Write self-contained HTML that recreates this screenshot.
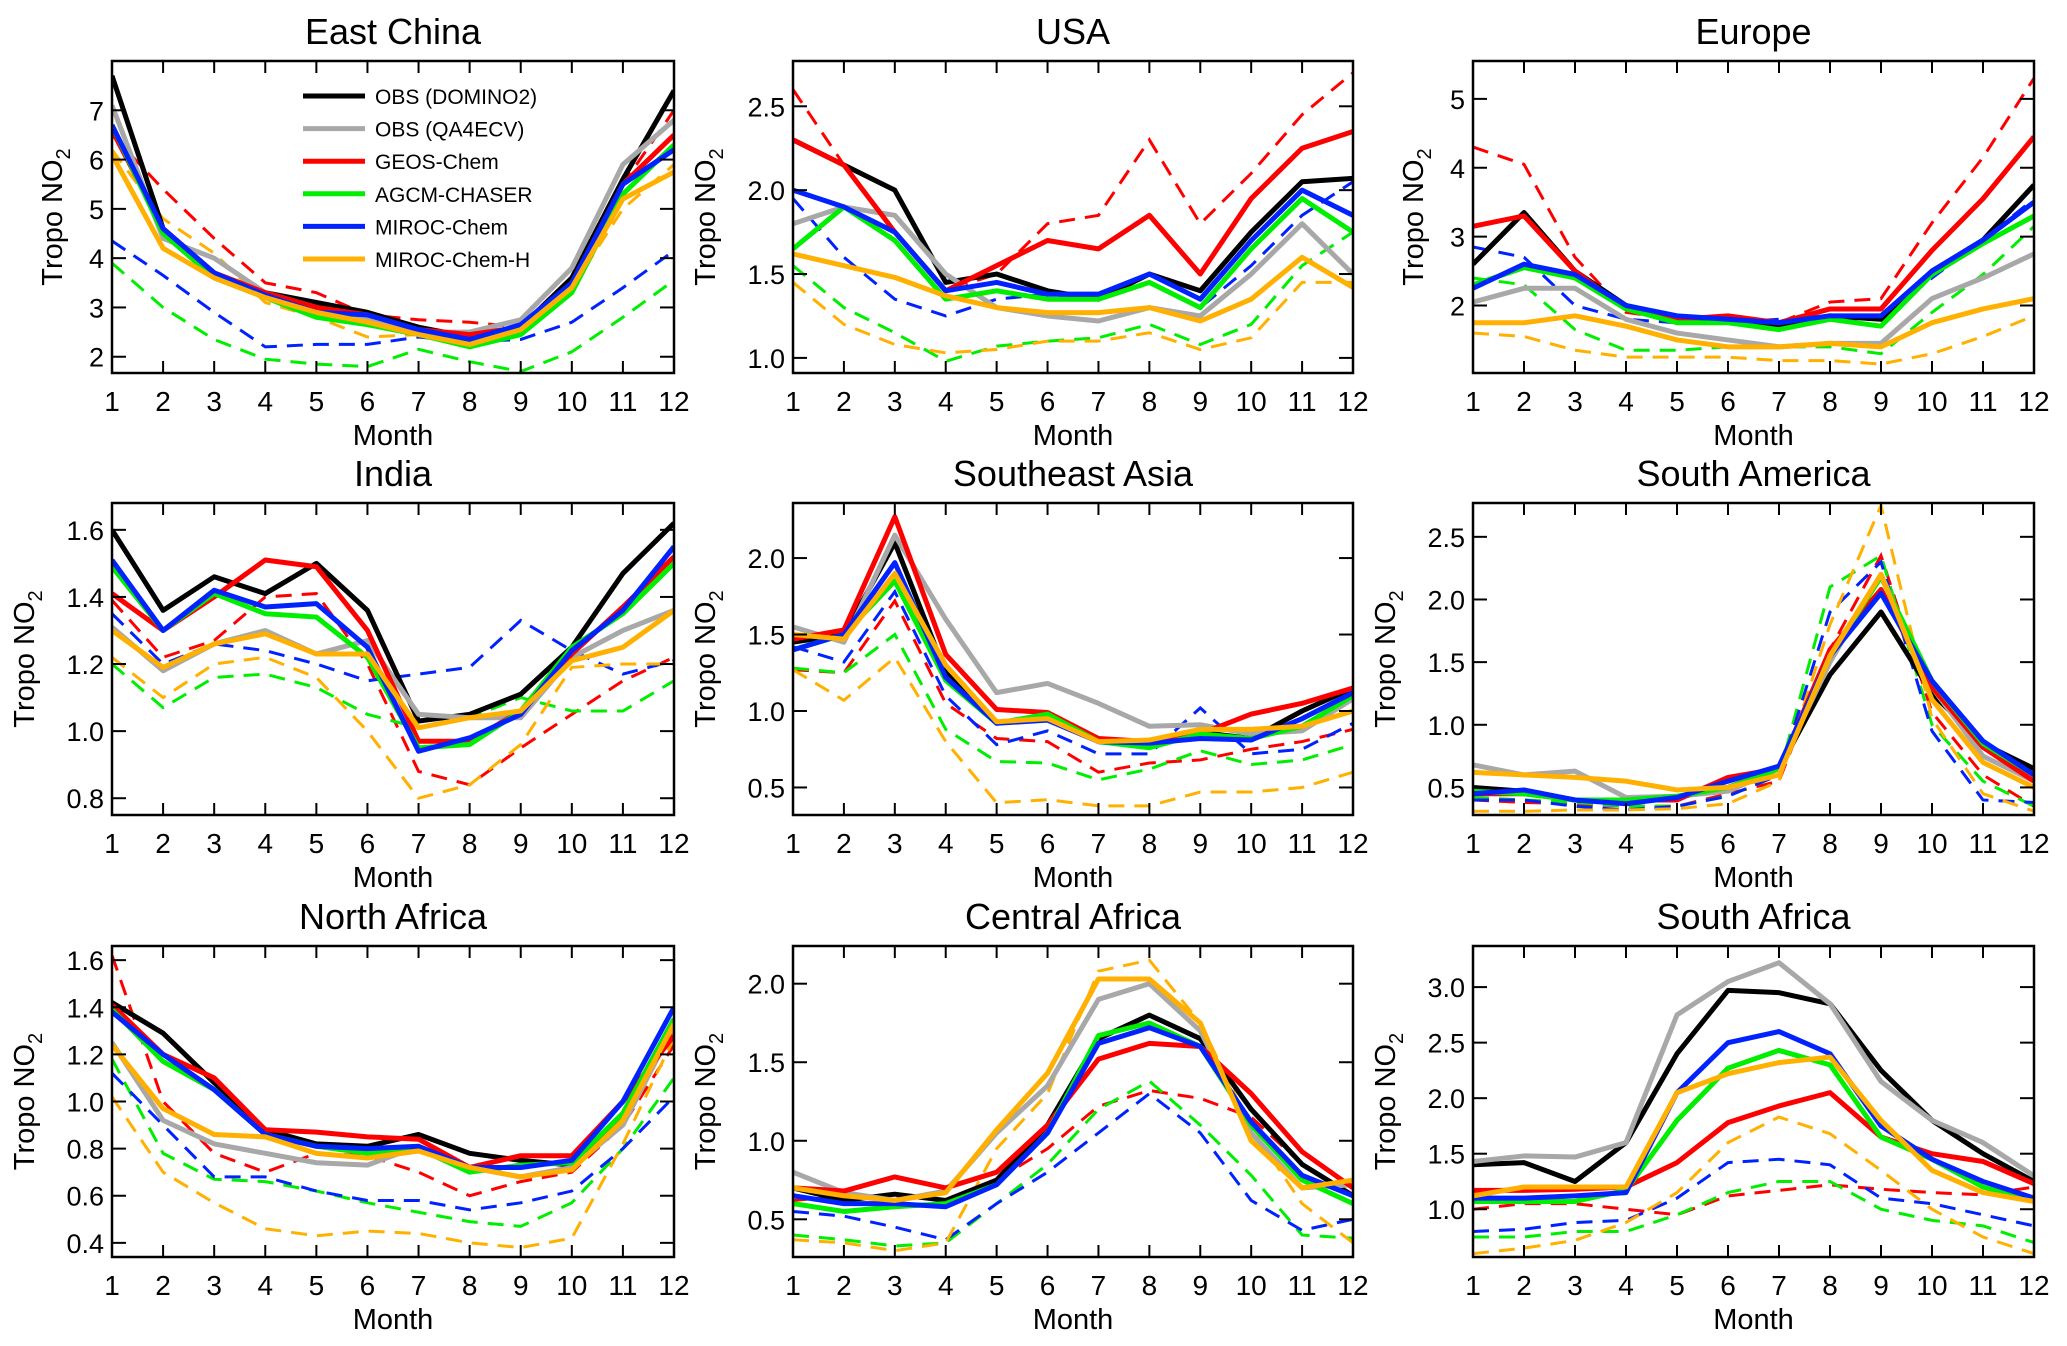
<!DOCTYPE html>
<html><head><meta charset="utf-8"><style>
html,body{margin:0;padding:0;background:#fff;}
svg{display:block;font-family:"Liberation Sans",Arial,sans-serif;}
</style></head><body>
<svg id="fig" width="2067" height="1346" viewBox="0 0 2067 1346" xmlns="http://www.w3.org/2000/svg"></svg>
<script>
const months=[1,2,3,4,5,6,7,8,9,10,11,12];
const panelTitles=["East China","USA","Europe","India","Southeast Asia","South America","North Africa","Central Africa","South Africa"];
const yRanges=[[1.67,8.0],[0.91,2.77],[1.02,5.55],[0.75,1.68],[0.32,2.36],[0.28,2.77],[0.34,1.66],[0.26,2.24],[0.57,3.37]];
const yTicks=[[2,3,4,5,6,7],[1.0,1.5,2.0,2.5],[2,3,4,5],[0.8,1.0,1.2,1.4,1.6],[0.5,1.0,1.5,2.0],[0.5,1.0,1.5,2.0,2.5],[0.4,0.6,0.8,1.0,1.2,1.4,1.6],[0.5,1.0,1.5,2.0],[1.0,1.5,2.0,2.5,3.0]];
const yTickDecimals=[0,1,0,1,1,1,1,1,1];
const seriesNames=["OBS (DOMINO2)","OBS (QA4ECV)","GEOS-Chem","AGCM-CHASER","MIROC-Chem","MIROC-Chem-H"];
const dashedNames=["GEOS-Chem-dashed","AGCM-CHASER-dashed","MIROC-Chem-dashed","MIROC-Chem-H-dashed"];
const solidData=[
[[7.7,4.6,3.7,3.3,3.1,2.9,2.6,2.4,2.6,3.6,5.6,7.4],[7.1,4.4,4.0,3.3,3.0,2.8,2.5,2.5,2.75,3.8,5.9,6.8],[6.6,4.6,3.7,3.3,3.0,2.85,2.55,2.45,2.6,3.5,5.5,6.5],[6.7,4.5,3.6,3.2,2.8,2.65,2.45,2.2,2.45,3.3,5.3,6.3],[6.7,4.6,3.7,3.25,2.9,2.85,2.55,2.35,2.65,3.5,5.5,6.2],[6.1,4.2,3.6,3.2,2.9,2.7,2.45,2.25,2.55,3.4,5.2,5.75]],
[[2.3,2.15,2.0,1.45,1.5,1.4,1.35,1.5,1.4,1.75,2.05,2.07],[1.8,1.9,1.85,1.5,1.3,1.25,1.22,1.3,1.25,1.5,1.8,1.5],[2.3,2.15,1.75,1.4,1.55,1.7,1.65,1.85,1.5,1.95,2.25,2.35],[1.65,1.9,1.7,1.35,1.4,1.35,1.35,1.45,1.3,1.65,1.95,1.75],[2.0,1.9,1.75,1.4,1.45,1.38,1.38,1.5,1.35,1.7,2.0,1.85],[1.62,1.55,1.48,1.37,1.3,1.27,1.27,1.3,1.22,1.35,1.6,1.42]],
[[2.6,3.35,2.5,2.0,1.8,1.8,1.7,1.85,1.8,2.5,2.95,3.75],[2.05,2.25,2.25,1.8,1.6,1.5,1.4,1.45,1.45,2.1,2.4,2.75],[3.15,3.3,2.5,1.95,1.8,1.85,1.75,1.95,1.95,2.8,3.55,4.45],[2.3,2.55,2.4,1.95,1.75,1.75,1.65,1.8,1.7,2.45,2.9,3.3],[2.25,2.6,2.45,2.0,1.85,1.8,1.75,1.85,1.85,2.5,2.95,3.5],[1.75,1.75,1.85,1.7,1.5,1.4,1.4,1.45,1.4,1.75,1.95,2.1]],
[[1.6,1.36,1.46,1.41,1.5,1.36,1.03,1.05,1.11,1.25,1.47,1.62],[1.31,1.18,1.26,1.3,1.23,1.27,1.05,1.04,1.04,1.22,1.3,1.36],[1.41,1.3,1.4,1.51,1.49,1.3,0.97,0.97,1.06,1.23,1.37,1.52],[1.49,1.3,1.41,1.35,1.34,1.22,0.95,0.96,1.06,1.25,1.35,1.5],[1.51,1.3,1.42,1.37,1.38,1.25,0.94,0.98,1.05,1.24,1.36,1.55],[1.3,1.19,1.26,1.29,1.23,1.23,1.01,1.04,1.06,1.21,1.25,1.36]],
[[1.45,1.5,2.1,1.25,0.92,0.97,0.8,0.78,0.86,0.82,1.0,1.15],[1.55,1.45,2.15,1.6,1.12,1.18,1.05,0.9,0.91,0.85,0.87,1.08],[1.47,1.53,2.27,1.37,1.01,0.99,0.82,0.8,0.85,0.98,1.05,1.15],[1.4,1.5,1.85,1.2,0.92,0.98,0.8,0.76,0.85,0.82,0.9,1.1],[1.4,1.5,1.97,1.22,0.92,0.94,0.8,0.79,0.82,0.81,0.95,1.12],[1.5,1.47,1.9,1.3,0.93,0.95,0.8,0.81,0.88,0.88,0.9,1.0]],
[[0.5,0.47,0.4,0.38,0.42,0.5,0.65,1.4,1.9,1.25,0.85,0.65],[0.68,0.6,0.63,0.42,0.43,0.47,0.65,1.5,2.2,1.3,0.75,0.55],[0.45,0.45,0.4,0.4,0.4,0.58,0.65,1.6,2.08,1.3,0.82,0.55],[0.47,0.45,0.4,0.4,0.43,0.5,0.65,1.55,2.18,1.35,0.85,0.6],[0.45,0.48,0.4,0.37,0.42,0.55,0.67,1.55,2.05,1.35,0.87,0.6],[0.62,0.6,0.58,0.55,0.48,0.5,0.6,1.55,2.2,1.2,0.7,0.5]],
[[1.42,1.29,1.08,0.88,0.82,0.81,0.86,0.78,0.75,0.73,0.95,1.35],[1.25,0.92,0.82,0.78,0.74,0.73,0.81,0.72,0.68,0.72,0.9,1.32],[1.41,1.2,1.1,0.88,0.87,0.85,0.84,0.72,0.77,0.77,1.0,1.28],[1.39,1.17,1.05,0.86,0.81,0.78,0.8,0.7,0.73,0.74,0.95,1.35],[1.38,1.2,1.05,0.86,0.81,0.8,0.81,0.72,0.72,0.75,1.0,1.4],[1.24,0.97,0.86,0.85,0.78,0.76,0.79,0.72,0.68,0.71,0.92,1.33]],
[[0.7,0.62,0.66,0.62,0.75,1.1,1.65,1.8,1.65,1.2,0.85,0.65],[0.8,0.67,0.62,0.68,1.05,1.35,1.9,2.0,1.7,1.05,0.7,0.72],[0.7,0.68,0.77,0.7,0.8,1.1,1.52,1.62,1.6,1.3,0.93,0.7],[0.6,0.55,0.58,0.6,0.72,1.05,1.67,1.75,1.6,1.1,0.75,0.6],[0.65,0.6,0.6,0.58,0.72,1.05,1.62,1.72,1.6,1.12,0.78,0.65],[0.7,0.65,0.62,0.67,1.07,1.43,2.03,2.03,1.75,1.0,0.7,0.75]],
[[1.4,1.42,1.25,1.6,2.4,2.97,2.95,2.85,2.25,1.8,1.5,1.25],[1.43,1.48,1.47,1.6,2.75,3.05,3.22,2.85,2.15,1.8,1.6,1.3],[1.17,1.17,1.18,1.2,1.42,1.78,1.93,2.05,1.65,1.5,1.43,1.23],[1.07,1.07,1.07,1.17,1.8,2.27,2.43,2.3,1.65,1.45,1.2,1.07],[1.1,1.1,1.12,1.15,2.05,2.5,2.6,2.4,1.75,1.45,1.25,1.1],[1.12,1.2,1.2,1.2,2.05,2.22,2.32,2.37,1.8,1.35,1.15,1.07]]
];
const dashedData=[
[[6.5,5.4,4.4,3.5,3.3,2.85,2.75,2.7,2.6,3.6,5.5,7.0],[3.9,3.0,2.35,1.95,1.85,1.8,2.15,1.9,1.7,2.1,2.8,3.55],[4.35,3.65,2.9,2.2,2.25,2.25,2.4,2.3,2.35,2.7,3.4,4.15],[6.2,4.8,4.1,3.1,2.8,2.4,2.45,2.3,2.5,3.4,5.0,5.9]],
[[2.6,2.15,1.75,1.4,1.5,1.8,1.85,2.3,1.8,2.1,2.45,2.7],[1.55,1.3,1.15,0.98,1.07,1.1,1.12,1.2,1.08,1.2,1.55,1.75],[1.95,1.6,1.35,1.25,1.35,1.38,1.35,1.45,1.3,1.55,1.85,2.05],[1.45,1.2,1.08,1.03,1.05,1.1,1.1,1.15,1.05,1.12,1.45,1.45]],
[[4.3,4.05,2.7,1.9,1.8,1.8,1.75,2.05,2.1,3.2,4.15,5.3],[2.4,2.3,1.65,1.35,1.35,1.4,1.4,1.4,1.3,1.9,2.45,3.15],[2.85,2.7,2.0,1.8,1.75,1.75,1.8,1.8,1.8,2.4,2.95,3.55],[1.6,1.55,1.35,1.25,1.25,1.25,1.2,1.2,1.15,1.3,1.55,1.85]],
[[1.39,1.22,1.27,1.4,1.41,1.2,0.88,0.84,0.95,1.05,1.15,1.22],[1.2,1.07,1.16,1.17,1.13,1.05,1.01,1.04,1.1,1.06,1.06,1.15],[1.35,1.2,1.26,1.24,1.2,1.15,1.17,1.19,1.33,1.24,1.17,1.21],[1.22,1.1,1.2,1.22,1.16,1.0,0.8,0.84,0.96,1.19,1.2,1.2]],
[[1.27,1.25,1.72,1.05,0.82,0.8,0.6,0.66,0.68,0.75,0.8,0.88],[1.28,1.25,1.5,0.88,0.67,0.66,0.55,0.62,0.74,0.65,0.68,0.78],[1.42,1.32,1.78,1.1,0.78,0.87,0.72,0.72,1.02,0.72,0.75,0.92],[1.27,1.07,1.35,0.8,0.4,0.42,0.38,0.38,0.47,0.47,0.5,0.6]],
[[0.4,0.38,0.37,0.35,0.35,0.45,0.55,1.6,2.35,1.1,0.6,0.35],[0.42,0.4,0.38,0.35,0.35,0.43,0.6,2.1,2.35,1.0,0.55,0.35],[0.4,0.4,0.35,0.32,0.35,0.43,0.6,1.9,2.3,0.95,0.4,0.38],[0.31,0.31,0.32,0.32,0.33,0.37,0.55,1.8,2.75,1.05,0.45,0.31]],
[[1.62,1.0,0.78,0.7,0.78,0.77,0.7,0.6,0.66,0.7,0.9,1.24],[1.18,0.78,0.67,0.66,0.62,0.57,0.53,0.49,0.47,0.57,0.8,1.1],[1.12,0.9,0.68,0.68,0.62,0.58,0.58,0.54,0.57,0.62,0.8,1.02],[1.02,0.7,0.57,0.46,0.43,0.45,0.44,0.4,0.38,0.42,0.82,1.27]],
[[0.62,0.65,0.65,0.62,0.75,0.95,1.22,1.32,1.27,1.15,0.85,0.65],[0.4,0.37,0.33,0.35,0.6,0.85,1.2,1.38,1.1,0.78,0.4,0.38],[0.55,0.52,0.45,0.37,0.6,0.8,1.05,1.3,1.05,0.62,0.43,0.5],[0.37,0.35,0.3,0.35,0.95,1.3,2.08,2.15,1.75,1.08,0.6,0.35]],
[[1.0,1.05,1.05,1.0,0.95,1.12,1.17,1.22,1.18,1.15,1.13,1.2],[0.75,0.75,0.8,0.8,0.95,1.15,1.25,1.25,1.0,0.9,0.85,0.7],[0.8,0.82,0.88,0.9,1.1,1.42,1.45,1.4,1.1,1.05,0.95,0.85],[0.6,0.65,0.72,0.88,1.15,1.6,1.83,1.68,1.35,1.0,0.75,0.6]]
];
const solidColors=["#000000","#a8a8a8","#ff0000","#00ee00","#0022ff","#ffb000"];
const dashedColors=["#ff0000","#00ee00","#0022ff","#ffb000"];
const colX=[[112,674],[793,1353],[1473,2034]];
const rowY=[[61,373],[503,815],[946,1257]];
const NS="http://www.w3.org/2000/svg";
const svg=document.getElementById('fig');
function mk(tag,attrs,parent){const e=document.createElementNS(NS,tag);for(const k in attrs)e.setAttribute(k,attrs[k]);(parent||svg).appendChild(e);return e;}
function slug(s){return s.toLowerCase().replace(/[^a-z0-9]+/g,'-').replace(/^-|-$/g,'');}
for(let p=0;p<9;p++){
  const [x0,x1]=colX[p%3],[y0,y1]=rowY[Math.floor(p/3)];
  const [ymin,ymax]=yRanges[p];
  const xs=m=>x0+(m-1)/11*(x1-x0);
  const ys=v=>y1-(v-ymin)/(ymax-ymin)*(y1-y0);
  const g=mk('g',{});
  
  
  const cp='clip'+p;
  const cl=mk('clipPath',{id:cp},g);mk('rect',{x:x0,y:y0,width:x1-x0,height:y1-y0},cl);
  const t=mk('text',{x:(x0+x1)/2,y:y0-17,'text-anchor':'middle','font-size':36},g);t.textContent=panelTitles[p];
  
  
  const sg=mk('g',{'clip-path':'url(#'+cp+')'},g);
  dashedData[p].forEach((s,i)=>{
    const pl=mk('polyline',{points:s.map((v,j)=>xs(months[j])+','+ys(v)).join(' '),fill:'none',stroke:dashedColors[i],'stroke-width':3,'stroke-dasharray':'16,10'},sg);
    
    
  });
  solidData[p].forEach((s,i)=>{
    const pl=mk('polyline',{points:s.map((v,j)=>xs(months[j])+','+ys(v)).join(' '),fill:'none',stroke:solidColors[i],'stroke-width':5,'stroke-linejoin':'round'},sg);
    
    
  });
  const fr=mk('rect',{x:x0,y:y0,width:x1-x0,height:y1-y0,fill:'none',stroke:'#000','stroke-width':2.5},g);
  
  
  months.forEach(m=>{
    const x=xs(m);
    mk('line',{x1:x,x2:x,y1:y1,y2:y1-12,stroke:'#000','stroke-width':2},g);
    mk('line',{x1:x,x2:x,y1:y0,y2:y0+12,stroke:'#000','stroke-width':2},g);
    const tl=mk('text',{x:x,y:y1+38,'text-anchor':'middle','font-size':28},g);tl.textContent=m;
    
    
  });
  yTicks[p].forEach(v=>{
    const y=ys(v);
    mk('line',{x1:x0,x2:x0+14,y1:y,y2:y,stroke:'#000','stroke-width':2},g);
    mk('line',{x1:x1,x2:x1-14,y1:y,y2:y,stroke:'#000','stroke-width':2},g);
    const tl=mk('text',{x:x0-8,y:y+10,'text-anchor':'end','font-size':27},g);tl.textContent=v.toFixed(yTickDecimals[p]);
    
    
  });
  const xl=mk('text',{x:(x0+x1)/2,y:y1+72,'text-anchor':'middle','font-size':29},g);xl.textContent='Month';
  
  
  const yx=x0-(p===0||p===2?48:76)+10;
  const yl=mk('text',{x:0,y:0,'text-anchor':'middle','font-size':29,transform:'translate('+(yx-12)+','+((y0+y1)/2)+') rotate(-90)'},g);
  yl.innerHTML='Tropo NO<tspan font-size="20" dy="8">2</tspan>';
  
  
}
const lg=mk('g',{});


seriesNames.forEach((n,i)=>{
  const y=96+i*32.6;
  const e=mk('g',{},lg);
  
  
  mk('line',{x1:303,x2:365,y1:y,y2:y,stroke:solidColors[i],'stroke-width':5},e);
  const t=mk('text',{x:375,y:y+8,'font-size':21},e);t.textContent=n;
});
</script>
</body></html>
